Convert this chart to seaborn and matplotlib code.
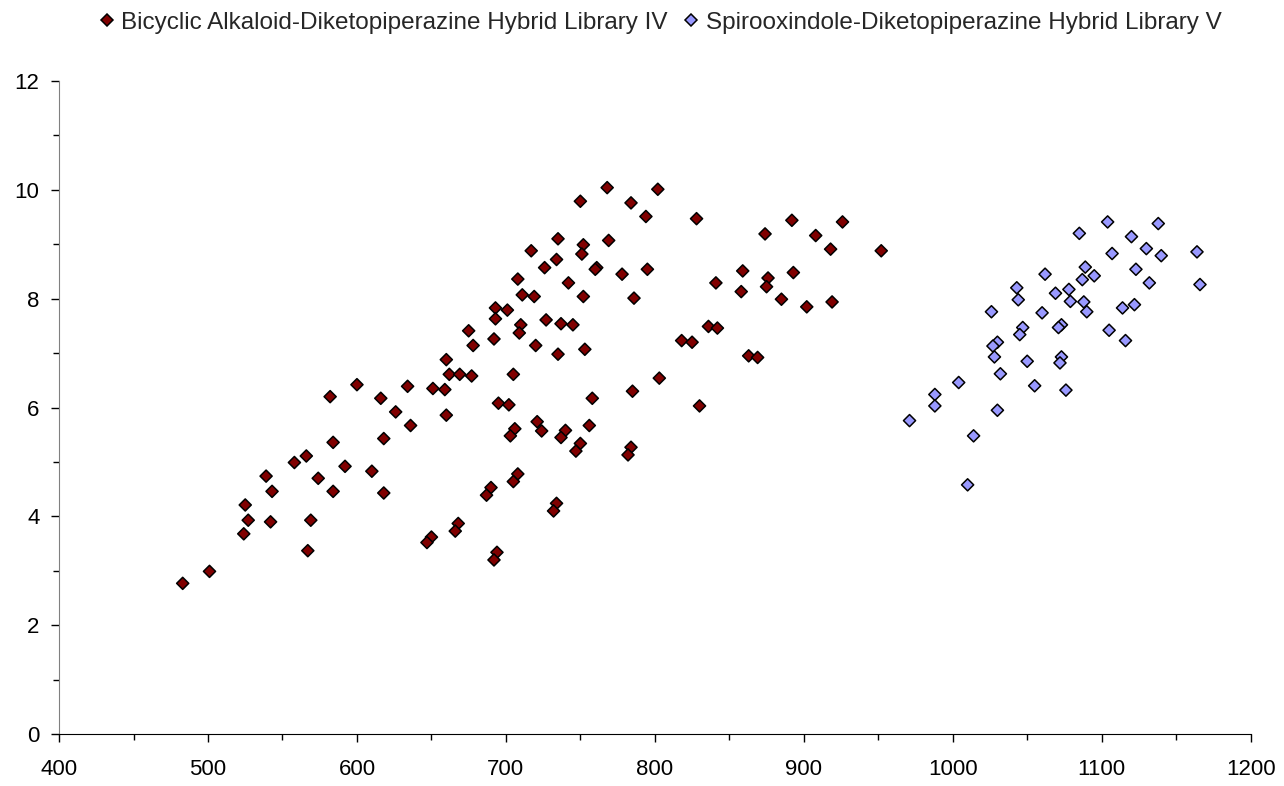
import pandas as pd
import matplotlib.pyplot as plt
import seaborn as sns
from matplotlib.ticker import MultipleLocator

# Library IV (bicyclic alkaloid-DKP hybrids)
lib4_x = [483, 501, 524, 527, 525, 539, 543, 542, 567, 569, 558, 566, 574, 584, 584,
          582, 592, 600, 610, 616, 618, 618, 626, 636, 634, 651, 659, 660, 660, 650,
          647, 768, 802, 750, 784, 794, 828, 735, 769, 717, 752, 751, 734, 726, 761,
          760, 778, 795, 841, 708, 742, 711, 719, 752, 786, 693, 701, 693, 710, 709,
          675, 727, 737, 745, 692, 678, 720, 735, 753, 818, 825, 836, 842, 662, 669,
          677, 705, 695, 702, 758, 785, 803, 830, 706, 703, 721, 724, 740, 737, 756,
          750, 747, 784, 782, 708, 705, 690, 687, 734, 732, 668, 666, 694, 692, 892,
          926, 874, 908, 918, 952, 859, 893, 876, 875, 858, 885, 902, 919, 863, 869]
lib4_y = [2.77, 2.99, 3.68, 3.93, 4.21, 4.74, 4.46, 3.90, 3.37, 3.93, 4.99, 5.11, 4.70, 5.36, 4.46,
          6.20, 4.92, 6.42, 4.83, 6.17, 5.43, 4.43, 5.92, 5.67, 6.39, 6.35, 6.33, 6.88, 5.86, 3.62,
          3.52, 10.04, 10.01, 9.79, 9.76, 9.51, 9.47, 9.10, 9.07, 8.88, 8.99, 8.82, 8.72, 8.57, 8.57,
          8.54, 8.45, 8.54, 8.29, 8.36, 8.29, 8.07, 8.04, 8.04, 8.01, 7.83, 7.79, 7.63, 7.52, 7.37,
          7.41, 7.61, 7.54, 7.52, 7.26, 7.14, 7.14, 6.98, 7.07, 7.23, 7.20, 7.49, 7.46, 6.61, 6.61,
          6.58, 6.61, 6.08, 6.05, 6.17, 6.30, 6.54, 6.03, 5.61, 5.48, 5.74, 5.57, 5.58, 5.45, 5.67,
          5.34, 5.20, 5.27, 5.13, 4.78, 4.64, 4.53, 4.39, 4.24, 4.10, 3.87, 3.73, 3.34, 3.20, 9.44,
          9.41, 9.19, 9.16, 8.91, 8.88, 8.51, 8.48, 8.38, 8.22, 8.13, 7.99, 7.85, 7.94, 6.95, 6.92]

# Library V (spirooxindole-DKP hybrids)
lib5_x = [971, 988, 988, 1004, 1104, 1138, 1085, 1120, 1130, 1140, 1164, 1107, 1166, 1089,
          1095, 1087, 1062, 1123, 1132, 1043, 1044, 1078, 1069, 1079, 1088, 1090, 1114, 1122,
          1026, 1060, 1047, 1045, 1073, 1071, 1105, 1116, 1030, 1027, 1028, 1050, 1073, 1072,
          1032, 1055, 1076, 1030, 1014, 1010]
lib5_y = [5.76, 6.24, 6.03, 6.46, 9.41, 9.38, 9.20, 9.14, 8.92, 8.79, 8.86, 8.83, 8.26, 8.58,
          8.42, 8.35, 8.45, 8.54, 8.29, 8.20, 7.98, 8.17, 8.10, 7.95, 7.94, 7.76, 7.83, 7.89,
          7.76, 7.74, 7.47, 7.34, 7.52, 7.47, 7.42, 7.23, 7.20, 7.13, 6.93, 6.85, 6.93, 6.82,
          6.62, 6.40, 6.32, 5.95, 5.48, 4.58]

series_names = ['Bicyclic Alkaloid-Diketopiperazine Hybrid Library IV',
                'Spirooxindole-Diketopiperazine Hybrid Library V']
series_colors = ['#800000', '#9999FF']


def build_frame():
    """两个库合成一个长表"""
    df4 = pd.DataFrame({'x': lib4_x, 'y': lib4_y, 'library': series_names[0]})
    df5 = pd.DataFrame({'x': lib5_x, 'y': lib5_y, 'library': series_names[1]})
    return pd.concat([df4, df5], ignore_index=True)


def plot_libraries(df, save_path):
    sns.set_style('white')
    plt.rcParams['font.family'] = ['Liberation Sans', 'DejaVu Sans']

    fig, ax = plt.subplots(figsize=(12.84, 7.86), dpi=100)
    fig.subplots_adjust(left=0.046, right=0.974, bottom=0.066, top=0.897)

    sns.scatterplot(data=df, x='x', y='y', hue='library', hue_order=series_names,
                    palette=series_colors, marker='D', s=38,
                    edgecolor='black', linewidth=1.1, ax=ax)

    # 坐标轴范围和刻度
    ax.set_xlim(400, 1200)
    ax.set_ylim(0, 12)
    ax.xaxis.set_major_locator(MultipleLocator(100))
    ax.xaxis.set_minor_locator(MultipleLocator(50))
    ax.yaxis.set_major_locator(MultipleLocator(2))
    ax.yaxis.set_minor_locator(MultipleLocator(1))
    ax.tick_params(which='both', bottom=True, left=True, direction='out',
                   width=1, color='black')
    ax.tick_params(which='major', length=6, labelsize=16, labelcolor='black')
    ax.tick_params(which='minor', length=4)
    ax.tick_params(axis='x', which='major', pad=12)
    ax.tick_params(axis='y', which='major', pad=8)
    ax.set_xlabel('')
    ax.set_ylabel('')

    for side in ['top', 'right']:
        ax.spines[side].set_visible(False)
    ax.spines['left'].set_color('#808080')
    ax.spines['bottom'].set_color('black')

    # 图例放在顶部，略偏右
    sns.move_legend(ax, 'center', bbox_to_anchor=(0.513, 0.971),
                    bbox_transform=fig.transFigure, ncol=2, frameon=False,
                    title=None, fontsize=17.5, handletextpad=0.15,
                    columnspacing=0.5, handlelength=0.9)
    for h in ax.get_legend().legend_handles:
        h.set_markersize(6)

    plt.savefig(save_path)
    plt.close()


plot_libraries(build_frame(), 'out.png')
